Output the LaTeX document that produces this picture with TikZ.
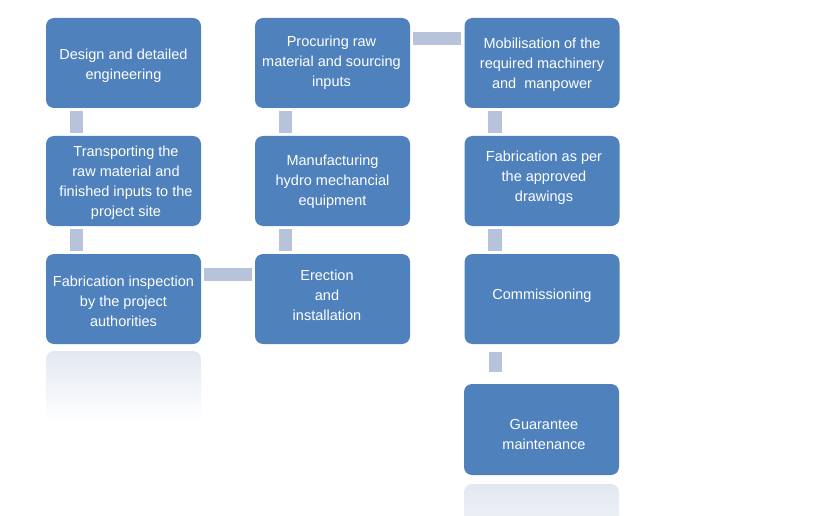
\documentclass[tikz,border=0pt]{standalone}
\usepackage{fontspec}
\setmainfont{Liberation Sans}
\usetikzlibrary{calc}
\definecolor{boxblue}{HTML}{4F81BD}
\definecolor{connc}{HTML}{B7C2DB}
\definecolor{reflc}{HTML}{E2E8F2}
\tikzset{
  stepbox/.style={fill=boxblue, draw=none, rounded corners=8pt, minimum width=155pt, minimum height=90pt, inner sep=0pt},
  steptext/.style={text=white, align=center, font=\fontsize{14.5pt}{20pt}\selectfont, inner sep=0pt, yshift=-2pt},
  conn/.style={draw=connc, line width=13.5pt},
  refl/.style={draw=none, rounded corners=8pt, top color=reflc, bottom color=white}
}
\begin{document}
\begin{tikzpicture}[x=1pt,y=-1pt]
\useasboundingbox (0,0) rectangle (824,516);
% reflections
\shade[refl] (46,351) rectangle (201,422);
\shade[refl, top color=reflc, bottom color=reflc!55] (464,484) rectangle (619,530);
% boxes
\node[stepbox] (design) at (123.5,63) {};
\node[steptext] (designT) at (123.5,64) {Design and detailed\\engineering};
\node[stepbox] (transp) at (123.5,181) {};
\node[steptext] (transpT) at (126,181) {Transporting the\\raw material and\\finished inputs to the\\project site};
\node[stepbox] (inspect) at (123.5,299) {};
\node[steptext] (inspectT) at (123.5,299) {Fabrication inspection\\by the project\\authorities};
\node[stepbox] (procure) at (332.5,63) {};
\node[steptext] (procureT) at (331.5,61) {Procuring raw\\material and sourcing\\inputs};
\node[stepbox] (manuf) at (332.5,181) {};
\node[steptext] (manufT) at (332.5,180) {Manufacturing\\hydro mechancial\\equipment};
\node[stepbox] (erect) at (332.5,299) {};
\node[steptext] (erectT) at (327,293) {Erection\\and\\installation};
\node[stepbox] (mobil) at (542,63) {};
\node[steptext] (mobilT) at (542,63) {Mobilisation of the\\required machinery\\and\ \ manpower};
\node[stepbox] (fabr) at (542,181) {};
\node[steptext] (fabrT) at (544,176) {Fabrication as per\\the approved\\drawings};
\node[stepbox] (comm) at (542,299) {};
\node[steptext] (commT) at (542,294) {Commissioning};
\node[stepbox, minimum height=91pt] (guar) at (541.5,429.5) {};
\node[steptext] (guarT) at (544,432.5) {Guarantee\\maintenance};
% connectors
\draw[conn] ($(design.south west)+(30.5pt,-3pt)$) -- ($(transp.north west)+(30.5pt,3pt)$);
\draw[conn] ($(transp.south west)+(30.5pt,-3pt)$) -- ($(inspect.north west)+(30.5pt,3pt)$);
\draw[conn] ($(inspect.north east)+(3pt,-20.5pt)$) -- ($(erect.north west)+(-3pt,-20.5pt)$);
\draw[conn] ($(procure.south west)+(30.5pt,-3pt)$) -- ($(manuf.north west)+(30.5pt,3pt)$);
\draw[conn] ($(manuf.south west)+(30.5pt,-3pt)$) -- ($(erect.north west)+(30.5pt,3pt)$);
\draw[conn] ($(procure.north east)+(3pt,-20.5pt)$) -- ($(mobil.north west)+(-3pt,-20.5pt)$);
\draw[conn] ($(mobil.south west)+(30.5pt,-3pt)$) -- ($(fabr.north west)+(30.5pt,3pt)$);
\draw[conn] ($(fabr.south west)+(30.5pt,-3pt)$) -- ($(comm.north west)+(30.5pt,3pt)$);
\draw[conn] ($(comm.south west)+(31pt,-8pt)$) -- ($(guar.north west)+(31.5pt,12pt)$);
\end{tikzpicture}
\end{document}
